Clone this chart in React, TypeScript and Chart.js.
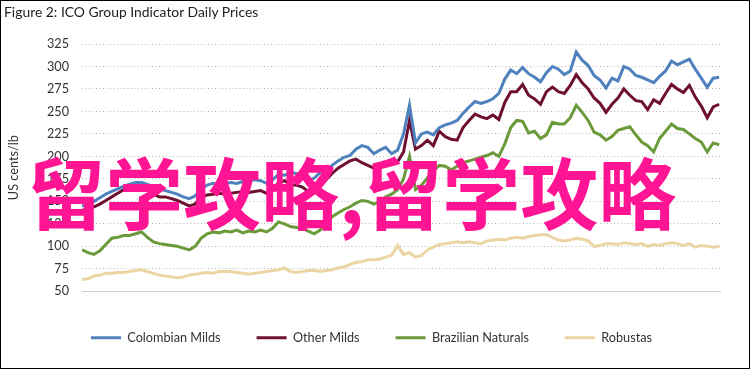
import React, { useEffect, useRef } from "react";
import { Chart, registerables } from "chart.js";

Chart.register(...registerables);

// Weekly samples starting 1 Jul 2020 (day offsets from that date)
const quarterDays = [0, 92, 184, 274, 365, 457, 549, 639, 730];
const quarterLabels = ["Jul-20", "Oct-20", "Jan-21", "Apr-21", "Jul-21", "Oct-21", "Jan-22", "Apr-22", "Jul-22"];

const colombianMilds = [145,146,150,154,158,161,164,167,169,171,
171,169,166,164,162,160,158,155,153,156,
164,168,170,168,170,171,170,172,173,174,
173,170,174,180,179,182,181,177,173,176,
182,184,190,195,199,201,208,212,210,203,
207,210,203,207,225,257,215,225,227,224,
232,235,237,240,248,255,261,259,261,264,
270,286,296,292,299,292,288,283,293,300,
297,291,295,316,307,301,290,285,276,287,
284,300,297,290,288,285,282,289,295,306,
302,305,308,297,287,277,287,288];

const otherMilds = [140,141,144,147,151,155,159,163,166,167,
167,163,158,155,155,153,151,148,145,147,
155,157,158,159,158,159,160,161,160,161,
162,159,162,171,173,169,168,166,161,166,
167,174,181,187,191,195,197,193,190,187,
191,193,191,194,205,240,208,212,218,212,
228,222,219,218,232,240,247,244,242,246,
241,260,272,272,280,268,264,258,272,277,
272,270,279,291,282,275,265,259,249,258,
265,275,268,262,261,252,263,259,270,280,
275,271,279,266,256,243,255,258];

const brazilianNaturals = [96,93,91,95,102,109,110,112,112,114,
116,110,105,103,102,101,100,98,96,100,
109,114,116,115,117,116,118,115,117,116,
118,116,120,127,125,122,121,120,117,114,
118,126,133,137,141,144,148,151,150,147,
150,155,158,163,175,200,163,168,176,184,
190,189,185,189,193,195,197,199,201,204,
200,214,232,240,239,226,228,220,224,238,
236,236,243,257,249,240,227,224,218,222,
229,231,233,224,216,212,205,220,228,236,
231,230,225,220,216,205,215,213];

const robustas = [63,64,67,68,70,70,71,71,72,73,
74,72,70,68,67,66,65,66,68,69,
70,71,70,72,72,72,71,70,69,70,
71,72,73,74,76,72,71,72,73,73,
72,73,74,76,77,80,82,83,85,85,
86,88,90,101,91,93,88,90,96,99,
102,103,104,105,104,105,104,103,106,107,
108,107,109,110,109,111,112,113,113,110,
107,106,107,109,108,106,100,101,103,103,
102,104,103,102,103,100,102,101,103,104,
103,101,103,99,101,100,99,100];

const seriesNames = ["Colombian Milds", "Other Milds", "Brazilian Naturals", "Robustas"];
const seriesColors = ["#4F81BD", "#6E1030", "#6B9A3A", "#EBD5A3"];
const yTicks = [50, 75, 100, 125, 150, 175, 200, 225, 250, 275, 300, 325];

const FONT = 'Lato, "Open Sans", sans-serif';
const FS = 12.7;

export default function App() {
  const ref = useRef<HTMLCanvasElement | null>(null);

  useEffect(() => {
    if (!ref.current) return;
    const all = [colombianMilds, otherMilds, brazilianNaturals, robustas];
    const datasets = all.map((vals, i) => ({
      label: seriesNames[i],
      data: vals.map((v, k) => ({ x: k * 7, y: v })),
      borderColor: seriesColors[i],
      backgroundColor: seriesColors[i],
      borderWidth: 3,
      pointRadius: 0,
      tension: 0,
      fill: false,
    }));

    const legendShift = {
      id: "legendShift",
      afterLayout(chart: any) {
        if (chart.legend) {
          chart.legend.left += 9.5;
          chart.legend.right += 9.5;
        }
      },
    };

    const chart = new Chart(ref.current, {
      type: "line",
      data: { datasets },
      plugins: [legendShift],
      options: {
        animation: false,
        responsive: false,
        devicePixelRatio: 1,
        layout: { padding: { left: 4, right: 31, top: 44, bottom: 16 } },
        plugins: {
          tooltip: { enabled: false },
          legend: {
            position: "bottom",
            labels: {
              boxWidth: 30,
              boxHeight: 3,
              padding: 36,
              color: "#333333",
              font: { family: FONT, size: FS },
              generateLabels(chart: any) {
                return chart.data.datasets.map((d: any, i: number) => ({
                  text: d.label,
                  fillStyle: d.borderColor,
                  strokeStyle: d.borderColor,
                  lineWidth: 0,
                  fontColor: "#333333",
                  hidden: false,
                  datasetIndex: i,
                }));
              },
            },
          },
        },
        scales: {
          x: {
            type: "linear",
            min: 0,
            max: 750,
            afterBuildTicks(scale: any) {
              scale.ticks = quarterDays.map((d) => ({ value: d }));
            },
            afterFit(scale: any) {
              scale.height = 4;
            },
            ticks: {
              autoSkip: false,
              maxRotation: 0,
              padding: 13,
              color: "#333333",
              font: { family: FONT, size: FS },
              callback(value: any) {
                const idx = quarterDays.indexOf(Number(value));
                return idx >= 0 ? quarterLabels[idx] : "";
              },
            },
            grid: { display: false, drawTicks: false },
            border: { display: true, color: "#CFCFCF", width: 1 },
          },
          y: {
            min: 50,
            max: 325,
            afterBuildTicks(scale: any) {
              scale.ticks = yTicks.map((v) => ({ value: v }));
            },
            afterFit(scale: any) {
              scale.width = 78;
            },
            title: {
              display: true,
              text: "US cents/lb",
              color: "#333333",
              font: { family: FONT, size: FS },
              padding: { top: 2, bottom: 0 },
            },
            ticks: {
              padding: 13,
              color: "#333333",
              font: { family: FONT, size: FS },
            },
            grid: {
              drawTicks: false,
              color: "#B4B4B4",
              lineWidth: 1,
            },
            border: { display: false, dash: [1, 2.5] },
          },
        },
      },
    });
    return () => chart.destroy();
  }, []);

  return (
    <div style={{ position: "absolute", left: 0, top: 0, width: 751, height: 370, background: "#fff" }}>
      <div
        style={{
          position: "absolute",
          left: 0,
          top: 0,
          width: 750,
          height: 369,
          boxSizing: "border-box",
          border: "1px solid #000",
        }}
      />
      <canvas ref={ref} width={751} height={370} style={{ position: "absolute", left: 0, top: 0 }} />
      <div
        style={{
          position: "absolute",
          left: 4,
          top: 3,
          fontFamily: FONT,
          fontSize: 13.9,
          color: "#222",
          whiteSpace: "nowrap",
        }}
      >
        Figure 2: ICO Group Indicator Daily Prices
      </div>
      <div
        style={{
          position: "absolute",
          left: 27,
          top: 151,
          fontFamily: '"Noto Sans CJK SC", sans-serif',
          fontWeight: 700,
          fontSize: 78,
          lineHeight: "78px",
          color: "#FF1493",
          whiteSpace: "nowrap",
          pointerEvents: "none",
        }}
      >
        留学攻略,留学攻略
      </div>
    </div>
  );
}
